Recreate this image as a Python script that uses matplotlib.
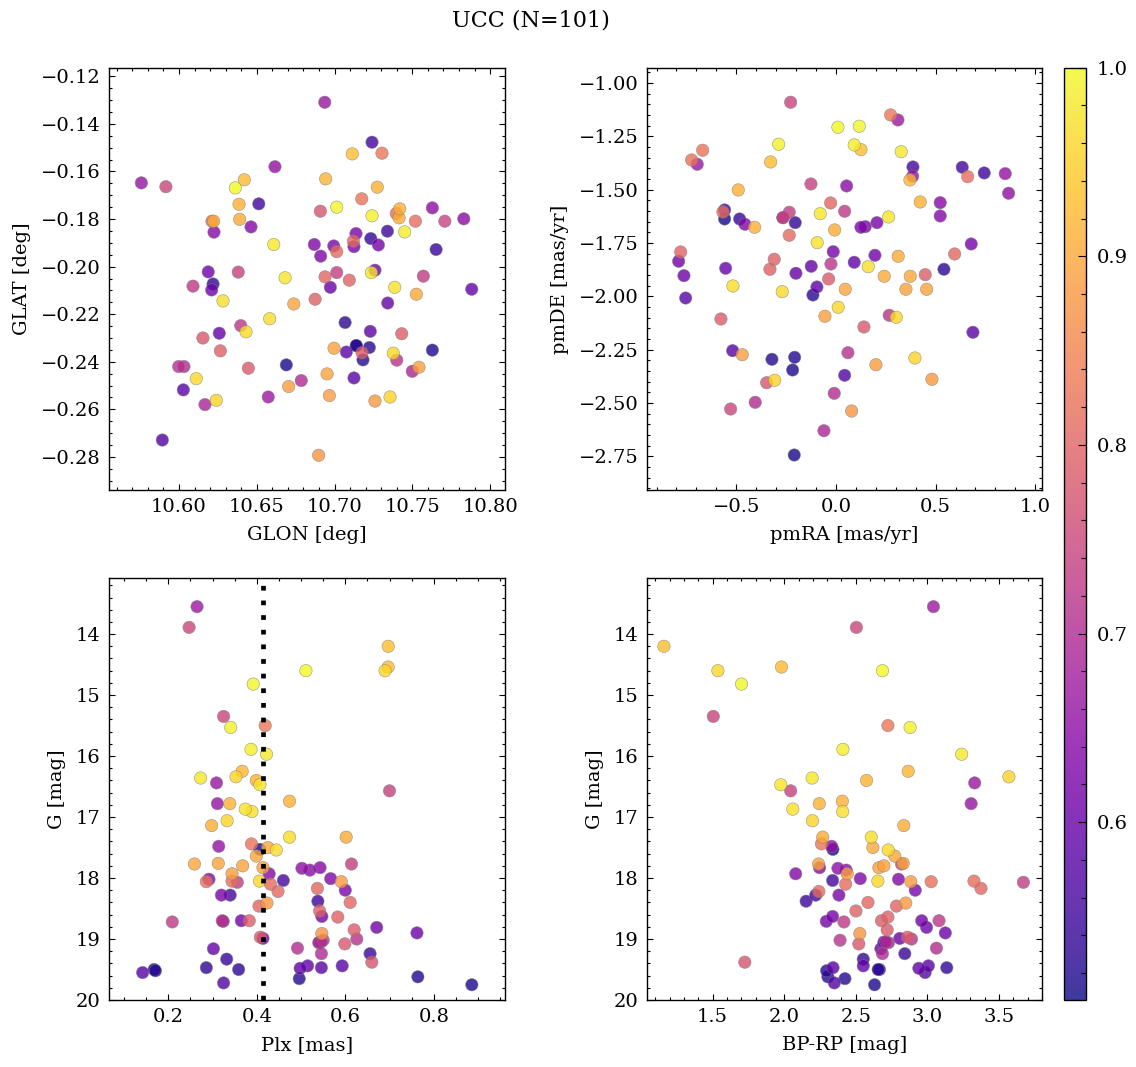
import numpy as np
import matplotlib
matplotlib.use("Agg")
import matplotlib.pyplot as plt
from matplotlib.ticker import MultipleLocator

# ---------------- data (101 members, ordered by membership probability) ----------------
prob = [1.0, 0.995, 0.99, 0.985, 0.98, 0.978, 0.975, 0.972, 0.97, 0.968, 0.965, 0.962, 0.96, 0.957, 0.955,
        0.93, 0.925, 0.92, 0.915, 0.912, 0.91, 0.907, 0.905, 0.902, 0.90, 0.897, 0.895, 0.892, 0.89, 0.887, 0.885, 0.88, 0.875,
        0.83, 0.825, 0.82, 0.815, 0.812, 0.81, 0.807, 0.805, 0.80, 0.797, 0.795, 0.79, 0.787, 0.785, 0.78, 0.775,
        0.75, 0.745, 0.74, 0.735, 0.73, 0.725, 0.72, 0.715, 0.71, 0.705, 0.70, 0.695, 0.69,
        0.67, 0.665, 0.66, 0.655, 0.65, 0.645, 0.64, 0.637, 0.634, 0.63, 0.627, 0.624, 0.62, 0.617, 0.614, 0.61, 0.607,
        0.604, 0.60, 0.597, 0.594, 0.59, 0.587, 0.584, 0.58, 0.575,
        0.56, 0.555, 0.55, 0.545, 0.54, 0.535, 0.53, 0.527, 0.524, 0.52, 0.517, 0.513, 0.51]

glon = [10.6362, 10.7014, 10.7241, 10.7451, 10.6609, 10.6682, 10.7237, 10.7387, 10.6283, 10.6583, 10.6431, 10.7378, 10.6111, 10.6240, 10.7357,
        10.7114, 10.6420, 10.6943, 10.7275, 10.6386, 10.7419, 10.7415, 10.6223, 10.6390, 10.7526, 10.6738, 10.6997, 10.6952, 10.7543, 10.6705, 10.6967, 10.7260, 10.6898,
        10.7305, 10.7175, 10.7397, 10.7520, 10.6212, 10.7014, 10.7121, 10.6939, 10.7095, 10.6875, 10.6266, 10.7432, 10.7177, 10.6446, 10.6154, 10.6909,
        10.5916, 10.7709, 10.6381, 10.7014, 10.7571, 10.6090, 10.6397, 10.7400, 10.5998, 10.6032, 10.6786, 10.7500, 10.6167,
        10.6574, 10.6937, 10.5758, 10.6617, 10.7629, 10.7831, 10.6225, 10.6463, 10.6870, 10.6911, 10.6995, 10.7138, 10.7125,
        10.7282, 10.6188, 10.7260, 10.6210, 10.6973, 10.7882, 10.7342, 10.6259, 10.7230, 10.7076, 10.7125, 10.6028, 10.5893,
        10.7241, 10.6513, 10.7340, 10.7653, 10.7233, 10.6219, 10.7068, 10.7140, 10.7224, 10.7183, 10.7629, 10.6690, 10.7140]

glat = [-0.1669, -0.1750, -0.1786, -0.1854, -0.1907, -0.2047, -0.2025, -0.2087, -0.2144, -0.2219, -0.2274, -0.2364, -0.2471, -0.2562, -0.2548,
        -0.1526, -0.1635, -0.1631, -0.1666, -0.1738, -0.1757, -0.1795, -0.1809, -0.1801, -0.2116, -0.2157, -0.2343, -0.2451, -0.2423, -0.2504, -0.2542, -0.2565, -0.2793,
        -0.1523, -0.1715, -0.1777, -0.1809, -0.1809, -0.1937, -0.1893, -0.2043, -0.2057, -0.2137, -0.2354, -0.2282, -0.2362, -0.2427, -0.2300, -0.1767,
        -0.1664, -0.1809, -0.2023, -0.2025, -0.2040, -0.2082, -0.2248, -0.2393, -0.2420, -0.2420, -0.2479, -0.2440, -0.2580,
        -0.2548, -0.1309, -0.1648, -0.1580, -0.1753, -0.1799, -0.1855, -0.1833, -0.1907, -0.1956, -0.1913, -0.1861, -0.1916,
        -0.1909, -0.2022, -0.2015, -0.2098, -0.2087, -0.2095, -0.2153, -0.2280, -0.2272, -0.2359, -0.2468, -0.2518, -0.2729,
        -0.1477, -0.1736, -0.1851, -0.1928, -0.1882, -0.2073, -0.2235, -0.2332, -0.2340, -0.2392, -0.2351, -0.2413, -0.2332]

pmra = [0.0100, 0.1169, -0.2875, 0.0918, 0.3276, -0.0788, 0.2644, -0.0938, 0.1621, -0.5168, -0.2694, 0.0115, 0.3026, 0.3964, -0.3076,
        0.1254, -0.3276, 0.3713, -0.4902, 0.4230, -0.4079, -0.0065, 0.3126, 0.2423, 0.3728, 0.0467, 0.3512, 0.4551, -0.0552, -0.4701, 0.2007, 0.4817, 0.0788,
        0.2745, -0.6688, -0.7240, 0.6608, -0.5670, -0.2343, -0.0266, 0.5956, -0.7792, -0.3096, -0.3312, 0.4481, -0.0366, -0.5770, 0.1405, -0.3477,
        -0.5283, -0.2273, -0.1254, -0.2659, -0.2343, 0.0437, -0.0251, 0.2674, 0.0602, -0.0085, -0.4049, -0.0602, -0.2659,
        0.3111, -0.6959, 0.3849, 0.8495, 0.8665, 0.0537, 0.5233, 0.5233, -0.4566, 0.1254, 0.1470, 0.2057, 0.6789,
        -0.0135, 0.1957, -0.7893, -0.7627, -0.5534, -0.2007, -0.1239, 0.0918, -0.0953, -0.7541, 0.6874, -0.5183, 0.0437,
        0.3864, 0.6337, 0.7441, -0.5585, -0.4832, -0.2042, 0.5419, -0.1154, -0.3211, -0.2072, -0.2173, -0.2092, -0.5585]

pmde = [-1.2077, -1.2030, -1.2874, -1.2907, -1.3221, -1.6128, -1.6282, -1.7487, -1.8612, -1.9517, -1.9784, -2.0516, -2.0985, -2.2893, -2.3938,
        -1.3127, -1.3704, -1.4548, -1.5016, -1.5579, -1.6765, -1.6892, -1.8125, -1.9062, -1.9062, -1.9672, -1.9672, -1.9672, -2.0938, -2.2738, -2.3207, -2.3891, -2.5377,
        -1.1500, -1.3155, -1.3610, -1.4393, -1.6048, -1.7140, -1.5626, -1.8017, -1.7923, -1.8265, -1.8734, -1.8987, -1.9189, -2.1064, -2.1439, -2.4051,
        -2.5284, -1.0905, -1.4735, -1.6315, -1.6062, -1.6015, -1.8486, -2.0891, -2.2644, -2.4548, -2.4970, -2.6301, -1.6315,
        -1.1735, -1.3812, -1.4374, -1.4252, -1.5171, -1.4829, -1.5612, -1.6235, -1.6624, -1.6765, -1.6737, -1.6549, -1.7548,
        -1.7909, -1.8078, -1.8359, -1.9034, -1.8687, -1.8922, -1.8594, -1.8406, -1.9564, -2.0080, -2.1688, -2.2550, -2.3704,
        -1.3938, -1.3952, -1.4219, -1.5954, -1.6376, -1.6549, -1.8734, -1.9939, -2.2954, -2.2860, -2.3455, -2.7440, -1.6376]

plx = [0.511, 0.392, 0.341, 0.387, 0.422, 0.273, 0.407, 0.374, 0.389, 0.474, 0.444, 0.406, 0.690, 0.333, 0.353,
       0.697, 0.697, 0.367, 0.399, 0.339, 0.474, 0.298, 0.602, 0.425, 0.399, 0.259, 0.313, 0.368, 0.414, 0.344, 0.591, 0.423, 0.547,
       0.419, 0.388, 0.286, 0.344, 0.431, 0.448, 0.537, 0.611, 0.405, 0.542, 0.583, 0.383, 0.620, 0.408, 0.599, 0.660,
       0.247, 0.325, 0.700, 0.614, 0.356, 0.209, 0.322, 0.550, 0.626, 0.492, 0.546, 0.545, 0.540,
       0.265, 0.309, 0.311, 0.314, 0.502, 0.520, 0.543, 0.428, 0.292, 0.567, 0.600, 0.320, 0.547,
       0.324, 0.365, 0.671, 0.762, 0.414, 0.542, 0.302, 0.498, 0.515, 0.546, 0.593, 0.142, 0.325,
       0.460, 0.340, 0.538, 0.656, 0.332, 0.286, 0.359, 0.171, 0.496, 0.764, 0.886, 0.407, 0.168]

gmag = [14.60, 14.82, 15.53, 15.89, 15.97, 16.36, 16.47, 16.87, 16.91, 17.33, 17.54, 18.05, 14.60, 17.06, 16.34,
        14.20, 14.54, 16.25, 16.40, 16.78, 16.74, 17.14, 17.33, 17.50, 17.64, 17.77, 17.76, 17.80, 17.83, 17.93, 18.06, 18.41, 18.91,
        15.50, 17.44, 18.06, 18.05, 18.10, 18.22, 18.17, 18.40, 18.46, 18.54, 18.64, 18.70, 18.85, 18.97, 19.08, 19.38,
        13.89, 15.35, 16.57, 17.77, 18.07, 18.72, 18.70, 19.02, 19.00, 19.15, 19.24, 19.05, 19.06,
        13.55, 16.44, 16.78, 17.48, 17.84, 17.87, 17.83, 17.93, 18.02, 18.01, 18.20, 18.28, 18.63,
        18.71, 18.70, 18.81, 18.90, 18.99, 19.05, 19.16, 19.48, 19.44, 19.47, 19.44, 19.55, 19.72,
        18.04, 18.28, 18.38, 19.24, 19.33, 19.47, 19.50, 19.52, 19.65, 19.62, 19.75, 17.53, 19.50]

bprp = [2.686, 1.702, 2.879, 2.410, 3.239, 2.195, 1.976, 2.060, 2.408, 2.608, 2.726, 2.654, 1.537, 2.197, 3.569,
        1.160, 1.981, 2.866, 2.575, 2.245, 2.406, 2.835, 2.269, 2.619, 2.772, 2.240, 2.831, 2.696, 2.661, 2.440, 2.884, 2.849, 2.528,
        2.724, 2.260, 3.026, 3.325, 2.429, 2.242, 3.374, 2.585, 2.784, 2.501, 2.724, 2.679, 2.719, 2.861, 2.521, 1.725,
        2.504, 1.505, 2.045, 2.819, 3.670, 2.417, 3.081, 2.390, 2.889, 3.063, 2.686, 2.710, 2.728,
        3.042, 3.330, 3.305, 2.331, 2.375, 2.433, 2.247, 2.080, 2.798, 2.531, 2.915, 2.382, 2.338,
        2.294, 2.960, 2.994, 3.125, 2.807, 2.696, 2.675, 2.940, 2.552, 2.341, 3.007, 2.984, 2.350,
        2.338, 2.220, 2.153, 2.842, 2.552, 3.135, 2.656, 2.296, 2.424, 2.305, 2.631, 2.340, 2.665]

plx_cut = 0.413
title = "UCC (N=101)"

# ---------------- style ----------------
plt.rcParams.update({
    "font.family": "DejaVu Serif",
    "font.size": 14,
    "axes.linewidth": 1.0,
    "xtick.direction": "in",
    "ytick.direction": "in",
    "xtick.top": True,
    "ytick.right": True,
    "xtick.major.size": 4.5,
    "ytick.major.size": 4.5,
    "xtick.minor.size": 2.3,
    "ytick.minor.size": 2.3,
    "xtick.major.width": 0.8,
    "ytick.major.width": 0.8,
    "xtick.minor.width": 0.8,
    "ytick.minor.width": 0.8,
    "xtick.minor.visible": True,
    "ytick.minor.visible": True,
    "xtick.major.pad": 6,
    "ytick.major.pad": 6,
})

W, H = 1136, 1067
fig = plt.figure(figsize=(W / 100, H / 100), dpi=100)

def frac(x0, x1, ytop, ybot):
    return [x0 / W, (H - ybot) / H, (x1 - x0) / W, (ybot - ytop) / H]

ax1 = fig.add_axes(frac(109, 505, 68, 490))
ax2 = fig.add_axes(frac(647, 1042, 68, 490))
ax3 = fig.add_axes(frac(109, 505, 578, 1000))
ax4 = fig.add_axes(frac(647, 1042, 578, 1000))
cax = fig.add_axes(frac(1064, 1086, 67.7, 999.5))

p = np.asarray(prob)
order = np.argsort(p)
kw = dict(c=p[order], cmap="plasma", vmin=0.506, vmax=1.0, s=80, alpha=0.8,
          edgecolors="grey", linewidths=0.4, zorder=3)

def arr(v):
    return np.asarray(v)[order]

sc = ax1.scatter(arr(glon), arr(glat), **kw)
ax2.scatter(arr(pmra), arr(pmde), **kw)
ax3.scatter(arr(plx), arr(gmag), **kw)
ax4.scatter(arr(bprp), arr(gmag), **kw)

ax3.axvline(plx_cut, color="black", lw=3.4, linestyle=(0, (1, 2.1)), zorder=4)

# axes limits / ticks
ax1.set_xlim(10.555, 10.8096)
ax1.set_ylim(-0.2939, -0.1165)
ax1.xaxis.set_major_locator(MultipleLocator(0.05))
ax1.xaxis.set_minor_locator(MultipleLocator(0.01))
ax1.yaxis.set_major_locator(MultipleLocator(0.02))
ax1.yaxis.set_minor_locator(MultipleLocator(0.005))
ax1.set_xlabel("GLON [deg]")
ax1.set_ylabel("GLAT [deg]")

ax2.set_xlim(-0.948, 1.034)
ax2.set_ylim(-2.908, -0.930)
ax2.xaxis.set_major_locator(MultipleLocator(0.5))
ax2.xaxis.set_minor_locator(MultipleLocator(0.1))
ax2.yaxis.set_major_locator(MultipleLocator(0.25))
ax2.yaxis.set_minor_locator(MultipleLocator(0.05))
ax2.set_xlabel("pmRA [mas/yr]")
ax2.set_ylabel("pmDE [mas/yr]")

ax3.set_xlim(0.066, 0.961)
ax3.set_ylim(20.0, 13.08)
ax3.xaxis.set_major_locator(MultipleLocator(0.2))
ax3.xaxis.set_minor_locator(MultipleLocator(0.05))
ax3.yaxis.set_major_locator(MultipleLocator(1))
ax3.yaxis.set_minor_locator(MultipleLocator(0.2))
ax3.set_xlabel("Plx [mas]")
ax3.set_ylabel("G [mag]")

ax4.set_xlim(1.042, 3.80)
ax4.set_ylim(20.0, 13.08)
ax4.xaxis.set_major_locator(MultipleLocator(0.5))
ax4.xaxis.set_minor_locator(MultipleLocator(0.1))
ax4.yaxis.set_major_locator(MultipleLocator(1))
ax4.yaxis.set_minor_locator(MultipleLocator(0.2))
ax4.set_xlabel("BP-RP [mag]")
ax4.set_ylabel("G [mag]")

for a in (ax1, ax2, ax3, ax4):
    a.xaxis.labelpad = 7
    a.yaxis.labelpad = 7

cb = fig.colorbar(sc, cax=cax)
cb.set_ticks([0.6, 0.7, 0.8, 0.9, 1.0])
cb.ax.yaxis.set_minor_locator(MultipleLocator(0.02))
cb.ax.tick_params(which="major", direction="in", length=6, width=0.8, pad=8)
cb.ax.tick_params(which="minor", direction="in", length=3.5, width=0.8)
cb.ax.tick_params(axis="x", which="both", bottom=False, top=False)
cb.outline.set_linewidth(1.0)

fig.suptitle(title, x=0.467, y=0.981, fontsize=16, va="center")

fig.savefig("out.png", dpi=100)
